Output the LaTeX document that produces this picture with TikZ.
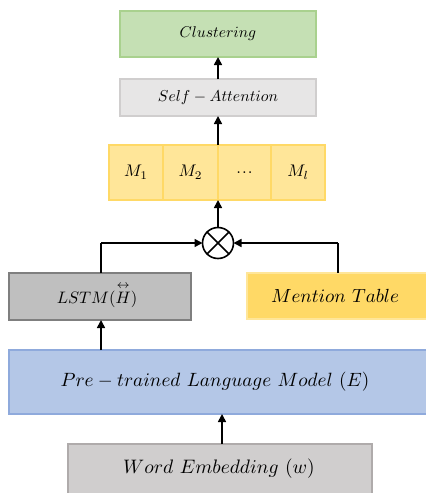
\documentclass[tikz,border=0pt]{standalone}
\usepackage{amsmath}
\usetikzlibrary{arrows.meta}
\definecolor{greenfill}{HTML}{C5E0B4}
\definecolor{greenline}{HTML}{A9D18E}
\definecolor{lgrayfill}{HTML}{E7E6E6}
\definecolor{lgrayline}{HTML}{D0CECE}
\definecolor{yellowfill}{HTML}{FFE699}
\definecolor{yellowline}{HTML}{FFD966}
\definecolor{goldfill}{HTML}{FFD966}
\definecolor{goldline}{HTML}{FFE699}
\definecolor{grayfill}{HTML}{BFBFBF}
\definecolor{grayline}{HTML}{7F7F7F}
\definecolor{bluefill}{HTML}{B4C7E7}
\definecolor{blueline}{HTML}{8FAADC}
\definecolor{wefill}{HTML}{D0CECE}
\definecolor{weline}{HTML}{AFABAB}
\newcommand{\celldots}{.\kern0.6pt.\kern0.6pt.}
\tikzset{
  box/.style={rectangle, line width=2.2pt, inner sep=0pt, outer sep=0pt, anchor=north west},
  label/.style={inner sep=0pt, font=\normalsize, scale=#1},
  link/.style={line width=1.6pt, -{Triangle[length=8pt,width=8pt]}},
  plain/.style={line width=1.6pt},
}
\begin{document}
\begin{tikzpicture}[x=1pt,y=-1pt]
\useasboundingbox (0,0) rectangle (426,493);
\clip (0,0) rectangle (426,493);
% top stack
\node[box, draw=greenline, fill=greenfill, minimum width=196pt, minimum height=46pt] (clu) at (120,11) {};
\node[label=1.56] (clutext) at (clu.center) {$Clustering$};
\node[box, draw=lgrayline, fill=lgrayfill, minimum width=196pt, minimum height=37pt] (att) at (120,79) {};
\node[label=1.58] (atttext) at (att.center) {$Self-Attention$};
% mention cells
\foreach \i/\x/\w/\t in {1/109/54/$M_1$, 2/163/55/$M_2$, 3/218/53/\celldots, 4/271/54/$M_l$}{
  \node[box, draw=yellowline, fill=yellowfill, minimum width=\w pt, minimum height=55pt] (m\i) at (\x,145) {};
  \node[label=1.68] (mtext\i) at (m\i.center) {\t};
}
\coordinate (mtop) at (218,145);
\coordinate (mbot) at (218,200);
% combination operator
\node[circle, draw, line width=1.6pt, minimum size=31pt, inner sep=0pt, outer sep=0pt] (op) at (218,243) {};
\draw[line width=1.6pt] (op.north west) -- (op.south east) (op.north east) -- (op.south west);
% side inputs
\node[box, draw=grayline, fill=grayfill, minimum width=182pt, minimum height=47pt] (lstm) at (9,273) {};
\node[label=1.66] (lstmtext) at (97,295) {$LSTM(\overset{\scriptstyle\leftrightarrow}{H})$};
\node[box, draw=goldline, fill=goldfill, minimum width=184pt, minimum height=46pt] (ment) at (247,273) {};
\node[label=1.9] (menttext) at (335,296) {$Mention\ Table$};
% encoder and embedding
\node[box, draw=blueline, fill=bluefill, minimum width=422pt, minimum height=64pt] (plm) at (9,350) {};
\node[label=1.92] (plmtext) at (215,382) {$Pre-trained\ Language\ Model\ (E)$};
\node[box, draw=weline, fill=wefill, minimum width=304pt, minimum height=52pt] (emb) at (68,444) {};
\node[label=1.95] (embtext) at (219,469) {$Word\ Embedding\ (w)$};
% connectors
\coordinate (embtop) at (222,444);
\coordinate (plmbot) at (222,414);
\coordinate (plmtop) at (101,350);
\coordinate (lstmbot) at (101,320);
\coordinate (lstmtop) at (101,273);
\coordinate (lcorner) at (101,243);
\coordinate (menttop) at (338,273);
\coordinate (rcorner) at (338,243);
\draw[link] (embtop) -- (plmbot);
\draw[link] (plmtop) -- (lstmbot);
\draw[plain] (lstmtop) -- (lcorner);
\draw[link] (lcorner) -- (op.west);
\draw[plain] (menttop) -- (rcorner);
\draw[link] (rcorner) -- (op.east);
\draw[link] (op.north) -- (mbot);
\draw[link] (mtop) -- (att.south);
\draw[link] (att.north) -- (clu.south);
\end{tikzpicture}
\end{document}
